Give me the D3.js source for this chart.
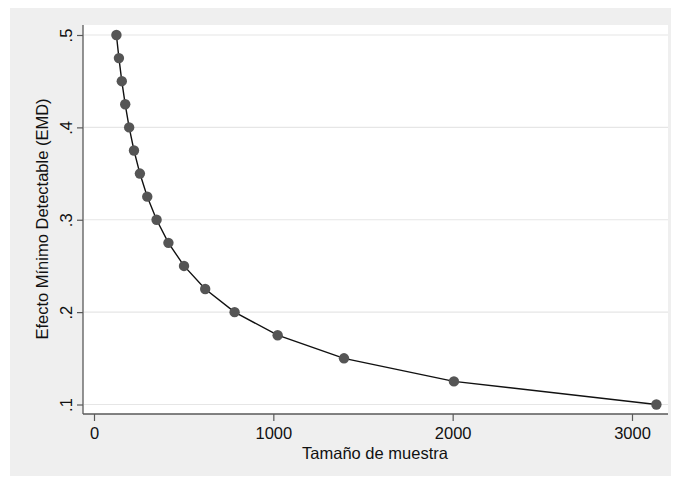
<!DOCTYPE html>
<html>
<head>
<meta charset="utf-8">
<script src="https://cdn.jsdelivr.net/npm/d3@7"></script>
<style>
  html, body { margin: 0; padding: 0; background: #ffffff; }
  svg { display: block; font-family: "Liberation Sans", Arial, sans-serif; }
</style>
</head>
<body>
<svg id="chart" width="673" height="477"></svg>
<script>
// Minimum detectable effect by sample size
const sampleSize = [125, 139, 155, 174, 196, 223, 256, 297, 349, 415, 502, 620, 784, 1024, 1394, 2007, 3136];
const effect = [0.5, 0.475, 0.45, 0.425, 0.4, 0.375, 0.35, 0.325, 0.3, 0.275, 0.25, 0.225, 0.2, 0.175, 0.15, 0.125, 0.1];
const xTicks = [0, 1000, 2000, 3000];
const yTicks = [0.1, 0.2, 0.3, 0.4, 0.5];
const yTickLabels = [".1", ".2", ".3", ".4", ".5"];
const xTitle = "Tamaño de muestra";
const yTitle = "Efecto Mínimo Detectable (EMD)";

const svg = d3.select("#chart");
const W = 673, H = 477;

// outer graph region
svg.append("rect").attr("x", 10).attr("y", 8).attr("width", 661).attr("height", 468).attr("fill", "#efefef");

const plot = { left: 83, top: 25, right: 668, bottom: 414 };
svg.append("rect")
  .attr("x", plot.left).attr("y", plot.top)
  .attr("width", plot.right - plot.left).attr("height", plot.bottom - plot.top)
  .attr("fill", "#ffffff");

const x = d3.scaleLinear().domain([0, 3000]).range([94, 632]);
const y = d3.scaleLinear().domain([0.1, 0.5]).range([404.5, 35]);

// horizontal grid
svg.append("g").selectAll("line").data(yTicks).join("line")
  .attr("x1", plot.left + 1).attr("x2", plot.right)
  .attr("y1", d => y(d)).attr("y2", d => y(d))
  .attr("stroke", "#e6e6e6").attr("stroke-width", 1.2);

// y axis
const yAxis = d3.axisLeft(y).tickValues(yTicks).tickSize(6).tickPadding(9)
  .tickFormat((d, i) => yTickLabels[i]);
const gy = svg.append("g").attr("transform", `translate(${plot.left},0)`).call(yAxis);
gy.select(".domain").attr("d", `M0,${plot.top}V${plot.bottom}`).attr("stroke", "#595959").attr("stroke-width", 1.3);
gy.selectAll(".tick line").attr("stroke", "#595959").attr("stroke-width", 1.2);
gy.selectAll(".tick text")
  .attr("font-size", 16.5).attr("fill", "#111")
  .attr("text-anchor", "middle").attr("dy", null)
  .attr("x", 0).attr("y", 0)
  .attr("transform", "translate(-17,0) rotate(-90) translate(0,6)");

// x axis
const xAxis = d3.axisBottom(x).tickValues(xTicks).tickSize(7).tickPadding(6).tickFormat(d3.format("d"));
const gx = svg.append("g").attr("transform", `translate(0,${plot.bottom})`).call(xAxis);
gx.select(".domain").attr("d", `M${plot.left},0H${plot.right}`).attr("stroke", "#595959").attr("stroke-width", 1.3);
gx.selectAll(".tick line").attr("stroke", "#595959").attr("stroke-width", 1.2);
gx.selectAll(".tick text").attr("font-size", 16.5).attr("fill", "#111");

// axis titles
svg.append("text").attr("x", 375).attr("y", 459).attr("text-anchor", "middle")
  .attr("font-size", 16.5).attr("fill", "#111").text(xTitle);
svg.append("text").attr("transform", "translate(48,219) rotate(-90)").attr("text-anchor", "middle")
  .attr("font-size", 16.5).attr("fill", "#111").text(yTitle);

// connected line and markers
const pts = sampleSize.map((n, i) => ({ n, e: effect[i] }));
svg.append("path").datum(pts)
  .attr("d", d3.line().x(d => x(d.n)).y(d => y(d.e)))
  .attr("fill", "none").attr("stroke", "#111").attr("stroke-width", 1.4);
svg.append("g").selectAll("circle").data(pts).join("circle")
  .attr("cx", d => x(d.n)).attr("cy", d => y(d.e)).attr("r", 5.2)
  .attr("fill", "#555555");
</script>
</body>
</html>
